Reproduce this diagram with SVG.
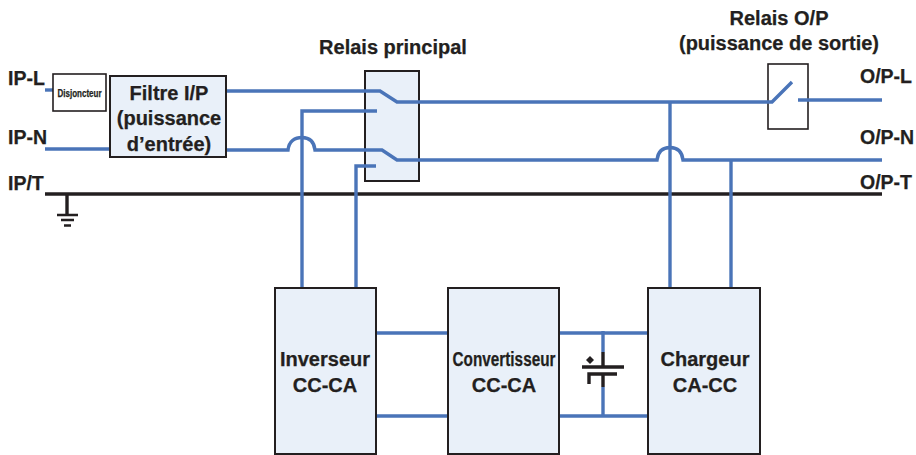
<svg xmlns="http://www.w3.org/2000/svg" width="916" height="455" viewBox="0 0 916 455">
<style>
text{font-family:"Liberation Sans",Arial,sans-serif;font-weight:700;fill:#231f20;stroke:#231f20;stroke-width:.25;text-anchor:middle}
.l{font-size:19.500px;text-anchor:start}
.c{font-size:20px}
.b{font-size:20px}
.w{fill:none;stroke:#4a74b8;stroke-width:3.4}
.k{fill:none;stroke:#231f20;stroke-width:3.4}
.g{fill:none;stroke:#231f20;stroke-width:2.6}
.box{fill:#e9f0f9;stroke:#231f20;stroke-width:2}
.wbox{fill:#fff;stroke:#231f20;stroke-width:1.6}
</style>
<rect width="916" height="455" fill="#fff"/>
<g id="relais-principal"><rect class="box" x="365" y="71" width="54" height="110"/></g>
<g id="relais-op"><rect class="wbox" x="768" y="64" width="40" height="65"/></g>
<g id="connectors">
<path class="k" d="M45 194H882"/>
<path class="k" d="M67 194V215"/>
<path class="g" d="M57 215H78M61 220H74M64 225.500H71"/>
<path class="w" d="M45 90H53"/>
<path class="w" d="M45 149H110"/>
<path class="w" d="M226 91H380L397 102H772L792 82"/>
<path class="w" d="M226 150H288C289 141 295 137.500 302 137.500C309 137.500 314 141 315 150H382L397 160H657C658 151 663 147.500 670 147.500C677 147.500 682 151 683 160H882"/>
<path class="w" d="M302 288V111H377"/>
<path class="w" d="M356 288V166H376"/>
<path class="w" d="M670 102V288"/>
<path class="w" d="M731 160V288"/>
<path class="w" d="M798 100H882"/>
<path class="w" d="M376 333H448M376 416H448"/>
<path class="w" d="M558 333H648M558 416H648"/>
<path class="w" d="M603 331V352M603 387V416"/>
<path class="k" d="M603 352V367M582 367H624M589 384V374H617M603 374V387"/>
<path d="M590 356L594 360L590 364L586 360Z" fill="#231f20"/>
</g>
<g id="disjoncteur"><rect class="wbox" x="53" y="74" width="53" height="37"/><text x="79.500" y="97" font-size="10" textLength="44" lengthAdjust="spacingAndGlyphs">Disjoncteur</text></g>
<g id="filtre"><rect class="box" x="110" y="76" width="116" height="81"/><text class="b" x="169" y="100">Filtre I/P</text><text class="b" x="169" y="125">(puissance</text><text class="b" x="169" y="151">d’entrée)</text></g>
<g id="inverseur"><rect class="box" x="275" y="288" width="101" height="166"/><text class="b" x="325" y="366">Inverseur</text><text class="b" x="325" y="392">CC-CA</text></g>
<g id="convertisseur"><rect class="box" x="448" y="288" width="111" height="166"/><text class="b" x="504" y="366" textLength="103" lengthAdjust="spacingAndGlyphs">Convertisseur</text><text class="b" x="504" y="392">CC-CA</text></g>
<g id="chargeur"><rect class="box" x="648" y="288" width="112" height="166"/><text class="b" x="705" y="366">Chargeur</text><text class="b" x="705" y="392">CA-CC</text></g>
<g id="labels">
<text class="l" x="8" y="85">IP-L</text>
<text class="l" x="8" y="144">IP-N</text>
<text class="l" x="8" y="190">IP/T</text>
<text class="c" x="393" y="54">Relais principal</text>
<text class="c" x="779" y="25">Relais O/P</text>
<text class="c" x="779" y="50">(puissance de sortie)</text>
<text class="l" x="860" y="83">O/P-L</text>
<text class="l" x="860" y="144">O/P-N</text>
<text class="l" x="860" y="189">O/P-T</text>
</g>
</svg>
